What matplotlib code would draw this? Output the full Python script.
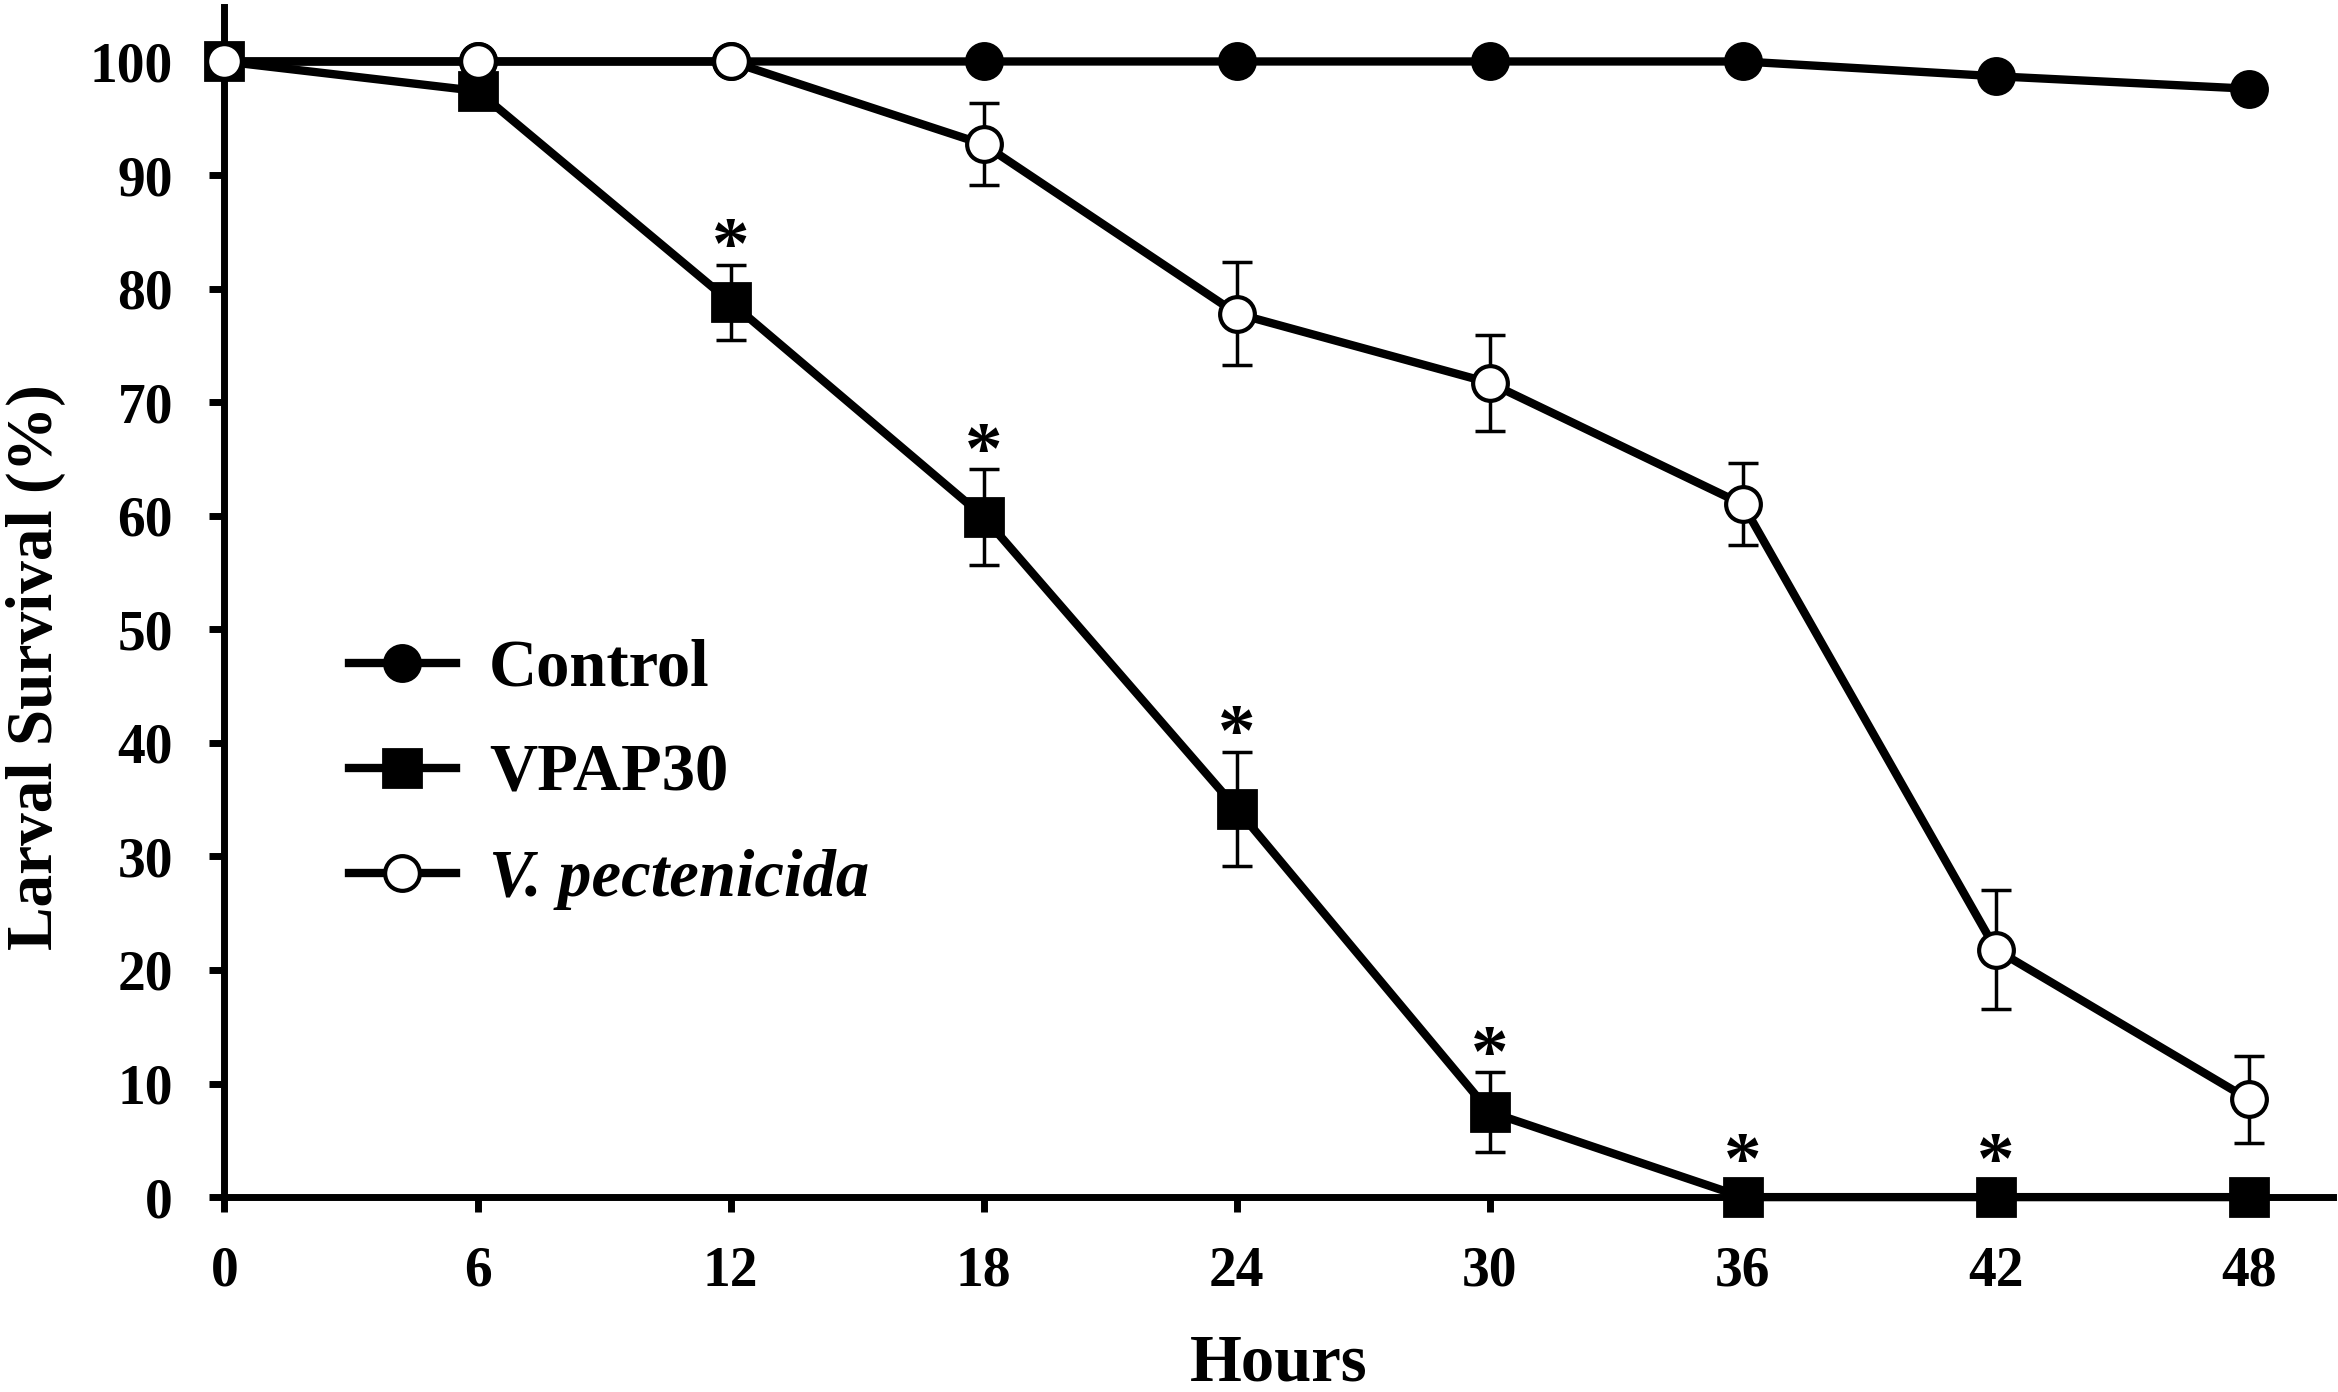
import numpy as np
import matplotlib
matplotlib.use('Agg')
import matplotlib.pyplot as plt

plt.rcParams['font.family'] = 'Liberation Serif'
plt.rcParams['font.weight'] = 'bold'

hours = [0, 6, 12, 18, 24, 30, 36, 42, 48]

control = [100, 100, 100, 100, 100, 100, 100, 98.7, 97.6]
vpap30 = [100, 97.4, 78.8, 59.9, 34.2, 7.5, 0, 0, 0]
vpap30_err = [0, 0, 3.3, 4.2, 5.0, 3.5, 0, 0, 0]
vpect = [100, 100, 100, 92.7, 77.8, 71.7, 61.0, 21.8, 8.6]
vpect_err = [0, 0, 0, 3.6, 4.5, 4.2, 3.6, 5.2, 3.8]

# asterisks: significant time points for VPAP30
star_hours = [12, 18, 24, 30, 36, 42]

fig = plt.figure(figsize=(23.38, 13.92), dpi=100)
ax = fig.add_axes([0.096, 0.140, 0.902, 0.855])

lw = 6
ax.plot(hours, control, '-o', color='black', lw=lw, ms=26, mfc='black',
        mec='black', mew=2, zorder=3, label='Control', clip_on=False)

h = np.array(hours)
v = np.array(vpap30)
e = np.array(vpap30_err)
m = e > 0
ax.errorbar(h[m], v[m], yerr=e[m], fmt='none', ecolor='black', elinewidth=2.5,
            capsize=11, capthick=2.5, zorder=4)
ax.plot(hours, vpap30, '-s', color='black', lw=lw, ms=27, mfc='black',
        mec='black', mew=2, zorder=5, label='VPAP30', clip_on=False)

vp = np.array(vpect)
ep = np.array(vpect_err)
mp = ep > 0
ax.errorbar(h[mp], vp[mp], yerr=ep[mp], fmt='none', ecolor='black', elinewidth=2.5,
            capsize=11, capthick=2.5, zorder=6)
ax.plot(hours, vpect, '-o', color='black', lw=lw, ms=25, mfc='white',
        mec='black', mew=3, zorder=7, label='V. pectenicida', clip_on=False)

for hr in star_hours:
    i = hours.index(hr)
    y = max(vpap30[i] + vpap30_err[i] - 0.3, 1.2)
    ax.text(hr, y, '*', ha='center', va='baseline', fontsize=54,
            fontweight='bold', zorder=8)

ax.set_xlim(0, 50)
ax.set_ylim(0, 104.8)
ax.set_xticks(hours)
ax.set_yticks(np.arange(0, 101, 10))
ax.tick_params(axis='both', labelsize=40, width=5, length=11, direction='out')
ax.tick_params(axis='x', pad=24)
ax.tick_params(axis='y', pad=26)

for side in ['top', 'right']:
    ax.spines[side].set_visible(False)
for side in ['left', 'bottom']:
    ax.spines[side].set_linewidth(5)

ax.set_xlabel('Hours', fontsize=48, fontweight='bold', labelpad=26)
ax.set_ylabel('Larval Survival (%)', fontsize=47, fontweight='bold')
ax.yaxis.set_label_coords(-0.075, 0.445)

leg = ax.legend(loc='upper left', bbox_to_anchor=(0.135, 0.565),
                bbox_transform=fig.transFigure, frameon=False, fontsize=48,
                handlelength=1.6, handletextpad=0.5, labelspacing=0.66,
                borderpad=0, markerscale=1.0)
for t in leg.get_texts():
    if t.get_text().startswith('V.'):
        t.set_fontstyle('italic')

fig.savefig('out.png', dpi=100)
